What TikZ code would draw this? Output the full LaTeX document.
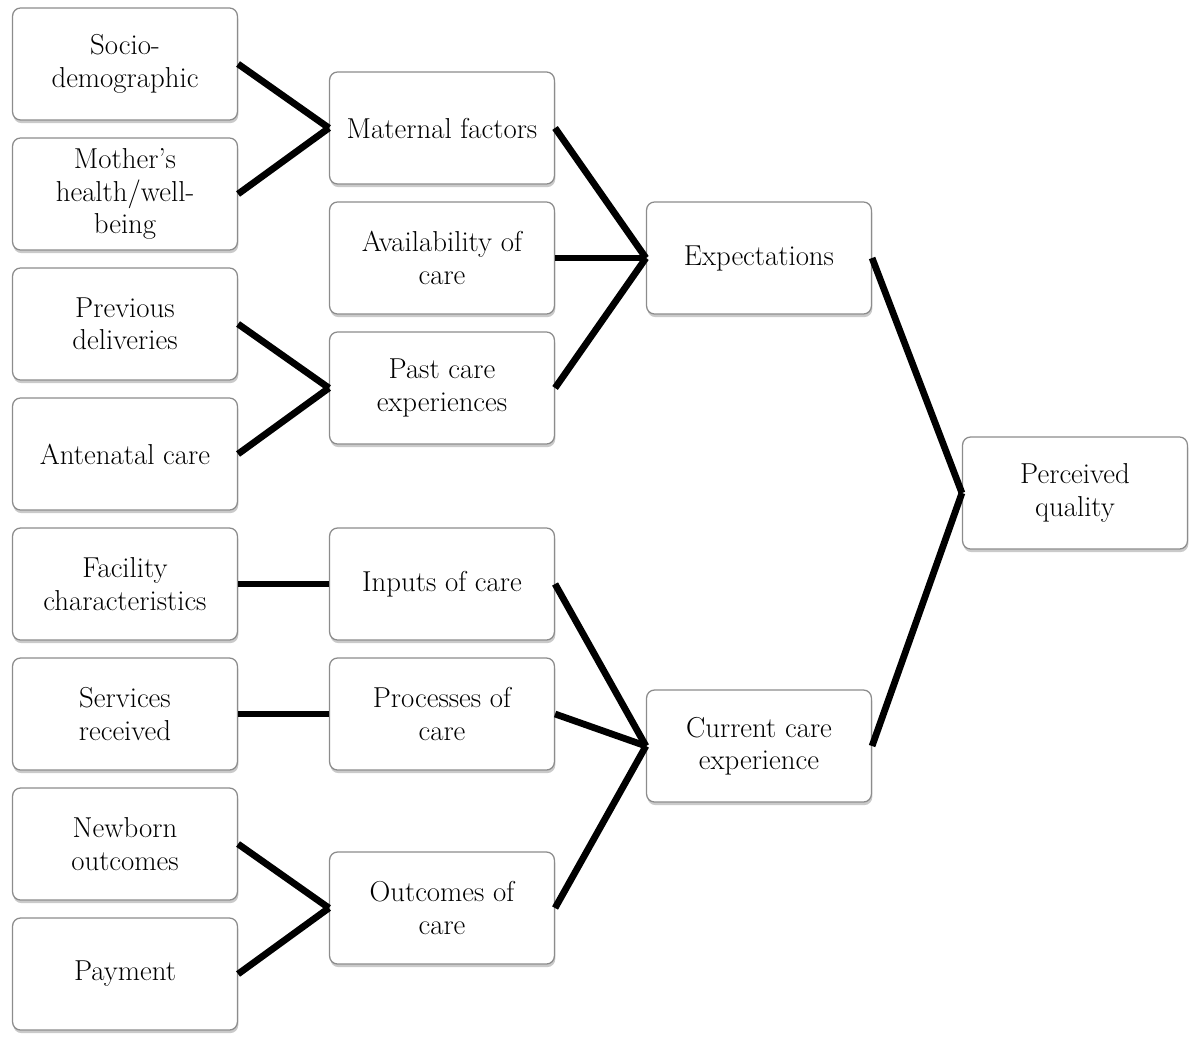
\documentclass[tikz,border=0pt]{standalone}
\usepackage{amsmath}
\usepackage{xcolor}
\usepackage{tikz}
\usetikzlibrary{shadows}

\begin{document}
\begin{tikzpicture}[x=0.025cm,y=-0.025cm,
	box/.style={draw=black!45,line width=0.9pt,rounded corners=0.2cm,fill=white,
		minimum width=5.62cm,minimum height=2.8cm,align=center,inner sep=2pt,
		font=\fontsize{20.5pt}{23pt}\selectfont,
		drop shadow={shadow xshift=0.6pt,shadow yshift=-2.2pt,opacity=0.35,fill=black!60}},
	link/.style={line width=4.8pt}]
	 \useasboundingbox (0,0) rectangle (1200,1056);
	 % first column
	 \node[box] (socio) at (125,64) {Socio-\\demographic};
	 \node[box] (mother) at (125,194) {Mother's\\health/well-\\being};
	 \node[box] (prevdel) at (125,324) {Previous\\deliveries};
	 \node[box] (antenatal) at (125,454) {Antenatal care};
	 \node[box] (facility) at (125,584) {Facility\\characteristics};
	 \node[box] (services) at (125,714) {Services\\received};
	 \node[box] (newborn) at (125,844) {Newborn\\outcomes};
	 \node[box] (payment) at (125,974) {Payment};
	 % second column
	 \node[box] (maternal) at (442,128) {Maternal factors};
	 \node[box] (avail) at (442,258) {Availability of\\care};
	 \node[box] (pastcare) at (442,388) {Past care\\experiences};
	 \node[box] (inputs) at (442,584) {Inputs of care};
	 \node[box] (processes) at (442,714) {Processes of\\care};
	 \node[box] (outcomes) at (442,908) {Outcomes of\\care};
	 % third column
	 \node[box] (expect) at (759,258) {Expectations};
	 \node[box] (current) at (759,746) {Current care\\experience};
	 \node[box] (perceived) at (1075,493) {Perceived\\quality};
	 % links
	 \draw[link] (socio.east) -- (maternal.west);
	 \draw[link] (mother.east) -- (maternal.west);
	 \draw[link] (prevdel.east) -- (pastcare.west);
	 \draw[link] (antenatal.east) -- (pastcare.west);
	 \draw[link] (facility.east) -- (inputs.west);
	 \draw[link] (services.east) -- (processes.west);
	 \draw[link] (newborn.east) -- (outcomes.west);
	 \draw[link] (payment.east) -- (outcomes.west);
	 \draw[link] (maternal.east) -- (expect.west);
	 \draw[link] (avail.east) -- (expect.west);
	 \draw[link] (pastcare.east) -- (expect.west);
	 \draw[link] (inputs.east) -- (current.west);
	 \draw[link] (processes.east) -- (current.west);
	 \draw[link] (outcomes.east) -- (current.west);
	 \draw[link] (expect.east) -- (perceived.west);
	 \draw[link] (current.east) -- (perceived.west);
\end{tikzpicture}
\end{document}
